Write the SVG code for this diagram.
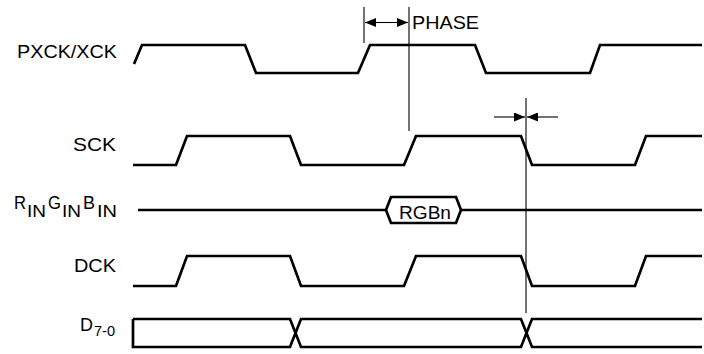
<svg xmlns="http://www.w3.org/2000/svg" width="704" height="354" viewBox="0 0 704 354">
<defs>
<style>
.sig{fill:none;stroke:#000;stroke-width:2.7;stroke-linejoin:miter}
.ref{fill:none;stroke:#000;stroke-width:1.1}
.lbl{font-family:"Liberation Sans",Arial,sans-serif;font-size:19px;fill:#000}
.sub{font-family:"Liberation Sans",Arial,sans-serif;font-size:15px;fill:#000}
.cap{font-family:"Liberation Sans",Arial,sans-serif;font-size:18px;fill:#000}
.in{font-family:"Liberation Sans",Arial,sans-serif;font-size:17px;fill:#000}
</style>
<marker id="ah" viewBox="0 0 11 9" refX="11" refY="4.5" markerWidth="11" markerHeight="9" markerUnits="userSpaceOnUse" orient="auto">
<path d="M0,0 L11,4.5 L0,9 Z" fill="#000"/>
</marker>
</defs>
<rect width="704" height="354" fill="#fff"/>

<g id="pxck">
<text class="lbl" x="17" y="58" textLength="100" lengthAdjust="spacingAndGlyphs">PXCK/XCK</text>
<path class="sig" d="M134,64 L142,45 L245,45 L256,73 L358,73 L370,45 L475,45 L486,73 L590,73 L600,45 L702,45"/>
</g>

<g id="sck">
<text class="lbl" x="73" y="150.5" textLength="43" lengthAdjust="spacingAndGlyphs">SCK</text>
<path class="sig" d="M133,165 L176,165 L187,136 L290,136 L301,165 L404,165 L416,136 L521,136 L532,165 L635,165 L646,136 L702,136"/>
</g>

<g id="rgbin">
<text class="cap" x="14" y="209" textLength="12" lengthAdjust="spacingAndGlyphs">R</text>
<text class="in" x="27" y="217" textLength="19" lengthAdjust="spacingAndGlyphs">IN</text>
<text class="cap" x="48" y="209" textLength="13" lengthAdjust="spacingAndGlyphs">G</text>
<text class="in" x="62" y="217" textLength="19" lengthAdjust="spacingAndGlyphs">IN</text>
<text class="cap" x="83" y="209" textLength="12" lengthAdjust="spacingAndGlyphs">B</text>
<text class="in" x="97" y="217" textLength="20" lengthAdjust="spacingAndGlyphs">IN</text>
<path class="sig" d="M138,210 L386,210 M461,210 L702,210"/>
<path class="sig" d="M386,210 L391,197 L456,197 L461,210 L456,223 L391,223 Z"/>
<text class="lbl" x="399" y="218.5" textLength="52" lengthAdjust="spacingAndGlyphs">RGBn</text>
</g>

<g id="dck">
<text class="lbl" x="74" y="272" textLength="42" lengthAdjust="spacingAndGlyphs">DCK</text>
<path class="sig" d="M133,286 L176,286 L187,256 L290,256 L301,286 L404,286 L416,256 L521,256 L532,286 L635,286 L646,256 L702,256"/>
</g>

<g id="d70">
<text class="lbl" x="80" y="331" textLength="13" lengthAdjust="spacingAndGlyphs">D</text>
<text class="sub" x="94" y="336" textLength="21" lengthAdjust="spacingAndGlyphs">7-0</text>
<path class="sig" d="M133,319 L290,319 L301,347 L521,347 L532,319 L702,319 M133,319 L133,347 L290,347 L301,319 L521,319 L532,347 L702,347"/>
</g>

<g id="connectors">
<path class="ref" d="M364,7 L364,43 M409,7 L409,131 M526,98 L526,313"/>
<path class="ref" d="M386,22.5 L408,22.5" marker-end="url(#ah)"/>
<path class="ref" d="M386,22.5 L365,22.5" marker-end="url(#ah)"/>
<path class="ref" d="M494,117 L525,117" marker-end="url(#ah)"/>
<path class="ref" d="M558,117 L527,117" marker-end="url(#ah)"/>
<text class="lbl" x="412" y="29" textLength="67" lengthAdjust="spacingAndGlyphs">PHASE</text>
</g>
</svg>
